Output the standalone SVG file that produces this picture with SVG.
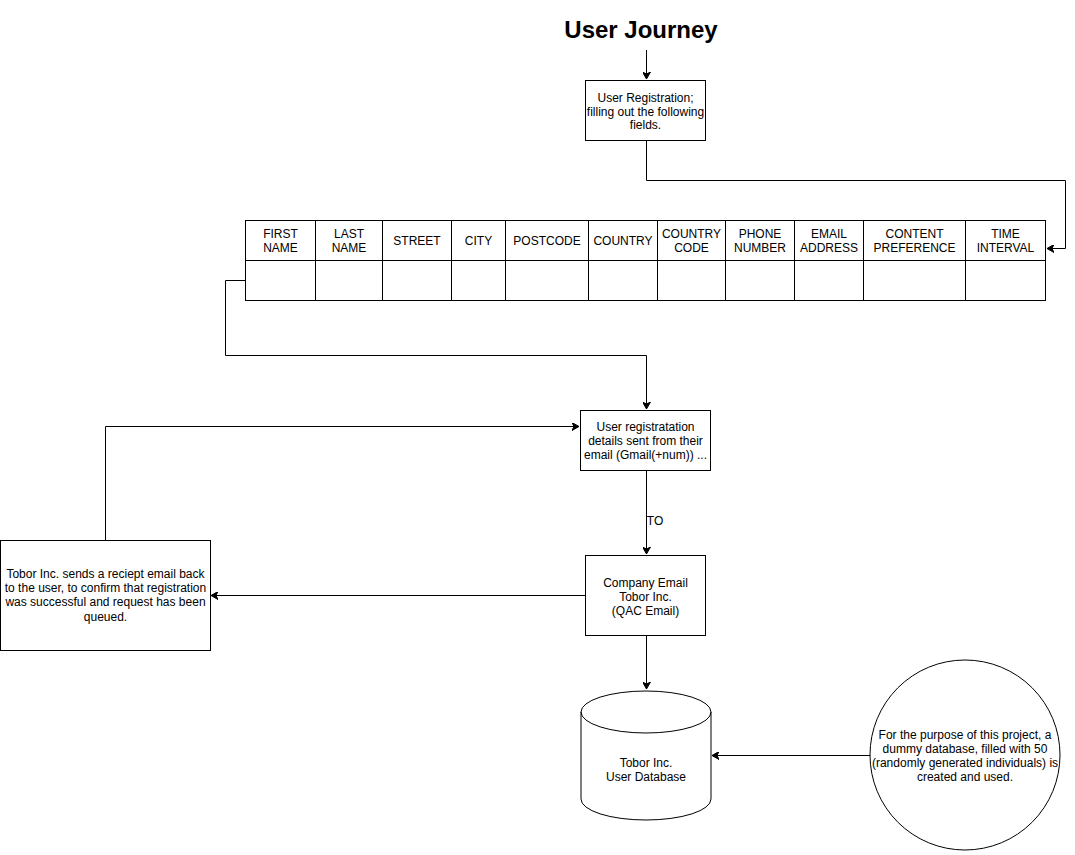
<svg xmlns="http://www.w3.org/2000/svg" width="1075" height="855" viewBox="0 0 1075 855">
  <style>
    .box { fill: #ffffff; stroke: #000000; stroke-width: 1; }
    .cell { fill: none; stroke: #000000; stroke-width: 1; }
    .edge { fill: none; stroke: #000000; stroke-width: 1; }
    .lbl { font-family: "Liberation Sans", Arial, Helvetica, sans-serif; font-size: 12px; fill: #000000; text-anchor: middle; }
    .title { font-family: "Liberation Sans", Arial, Helvetica, sans-serif; font-size: 24px; font-weight: bold; fill: #000000; text-anchor: middle; }
  </style>
  <defs>
    <marker id="arrow" viewBox="0 0 8 8" refX="7" refY="4" markerWidth="8" markerHeight="8" markerUnits="userSpaceOnUse" orient="auto">
      <path d="M0,0 L7,4 L0,8 L2,4 Z" fill="#000000" stroke="#000000" stroke-width="1"/>
    </marker>
  </defs>
  <rect width="1075" height="855" fill="#ffffff"/>

  <g id="title">
    <text class="title" x="641" y="38">User Journey</text>
  </g>

  <g id="connectors">
    <path class="edge" d="M646.5,50 V79" marker-end="url(#arrow)"/>
    <path class="edge" d="M646.5,140 V180.5 H1065.5 V248.5 H1047" marker-end="url(#arrow)"/>
    <path class="edge" d="M245,280.5 H225.5 V355.5 H646.5 V409" marker-end="url(#arrow)"/>
    <path class="edge" d="M646.5,470 V554" marker-end="url(#arrow)"/>
    <text class="lbl" x="655" y="525">TO</text>
    <path class="edge" d="M585,595.5 H211" marker-end="url(#arrow)"/>
    <path class="edge" d="M105.5,540 V426.5 H579" marker-end="url(#arrow)"/>
    <path class="edge" d="M646.5,635 V689" marker-end="url(#arrow)"/>
    <path class="edge" d="M870,755.5 H712" marker-end="url(#arrow)"/>
  </g>

  <g id="registration">
    <rect class="box" x="585.5" y="80.5" width="120" height="60"/>
    <text class="lbl" x="645.5" y="102">User Registration;</text>
    <text class="lbl" x="645.5" y="115.5">filling out the following</text>
    <text class="lbl" x="645.5" y="129">fields.</text>
  </g>

  <g id="fields-table">
    <rect class="cell" x="245.5" y="220.5" width="800" height="80"/>
    <path class="cell" d="M245.5,260.5 H1045.5 M315.5,220.5 V300.5 M382.5,220.5 V300.5 M451.5,220.5 V300.5 M505.5,220.5 V300.5 M588.5,220.5 V300.5 M657.5,220.5 V300.5 M725.5,220.5 V300.5 M794.5,220.5 V300.5 M863.5,220.5 V300.5 M965.5,220.5 V300.5"/>
    <text class="lbl" x="280.5" y="237.5">FIRST</text>
    <text class="lbl" x="280.5" y="251.5">NAME</text>
    <text class="lbl" x="349" y="237.5">LAST</text>
    <text class="lbl" x="349" y="251.5">NAME</text>
    <text class="lbl" x="417" y="244.5">STREET</text>
    <text class="lbl" x="478.5" y="244.5">CITY</text>
    <text class="lbl" x="547" y="244.5">POSTCODE</text>
    <text class="lbl" x="623" y="244.5">COUNTRY</text>
    <text class="lbl" x="691.5" y="237.5">COUNTRY</text>
    <text class="lbl" x="691.5" y="251.5">CODE</text>
    <text class="lbl" x="760" y="237.5">PHONE</text>
    <text class="lbl" x="760" y="251.5">NUMBER</text>
    <text class="lbl" x="829" y="237.5">EMAIL</text>
    <text class="lbl" x="829" y="251.5">ADDRESS</text>
    <text class="lbl" x="914.5" y="237.5">CONTENT</text>
    <text class="lbl" x="914.5" y="251.5">PREFERENCE</text>
    <text class="lbl" x="1005.5" y="237.5">TIME</text>
    <text class="lbl" x="1005.5" y="251.5">INTERVAL</text>
  </g>

  <g id="details-sent">
    <rect class="box" x="580.5" y="410.5" width="130" height="60"/>
    <text class="lbl" x="645.5" y="431">User registratation</text>
    <text class="lbl" x="645.5" y="445">details sent from their</text>
    <text class="lbl" x="645.5" y="459">email (Gmail(+num)) ...</text>
  </g>

  <g id="company-email">
    <rect class="box" x="585.5" y="555.5" width="120" height="80"/>
    <text class="lbl" x="645.5" y="587">Company Email</text>
    <text class="lbl" x="645.5" y="601">Tobor Inc.</text>
    <text class="lbl" x="645.5" y="615">(QAC Email)</text>
  </g>

  <g id="receipt">
    <rect class="box" x="0.5" y="540.5" width="210" height="110"/>
    <text class="lbl" x="105.5" y="578">Tobor Inc. sends a reciept email back</text>
    <text class="lbl" x="105.5" y="592">to the user, to confirm that registration</text>
    <text class="lbl" x="105.5" y="606">was successful and request has been</text>
    <text class="lbl" x="105.5" y="620.5">queued.</text>
  </g>

  <g id="user-database">
    <path class="box" stroke-width="2" d="M581,712 A65,21 0 0 1 711,712 V799 A65,21 0 0 1 581,799 Z"/>
    <path class="edge" stroke-width="2" d="M581,712 A65,21 0 0 0 711,712"/>
    <text class="lbl" x="646" y="767">Tobor Inc.</text>
    <text class="lbl" x="646" y="781">User Database</text>
  </g>

  <g id="dummy-note">
    <circle class="box" cx="965" cy="755" r="95"/>
    <text class="lbl" x="965" y="739">For the purpose of this project, a</text>
    <text class="lbl" x="965" y="753">dummy database, filled with 50</text>
    <text class="lbl" x="965" y="767">(randomly generated individuals) is</text>
    <text class="lbl" x="965" y="781">created and used.</text>
  </g>
</svg>
